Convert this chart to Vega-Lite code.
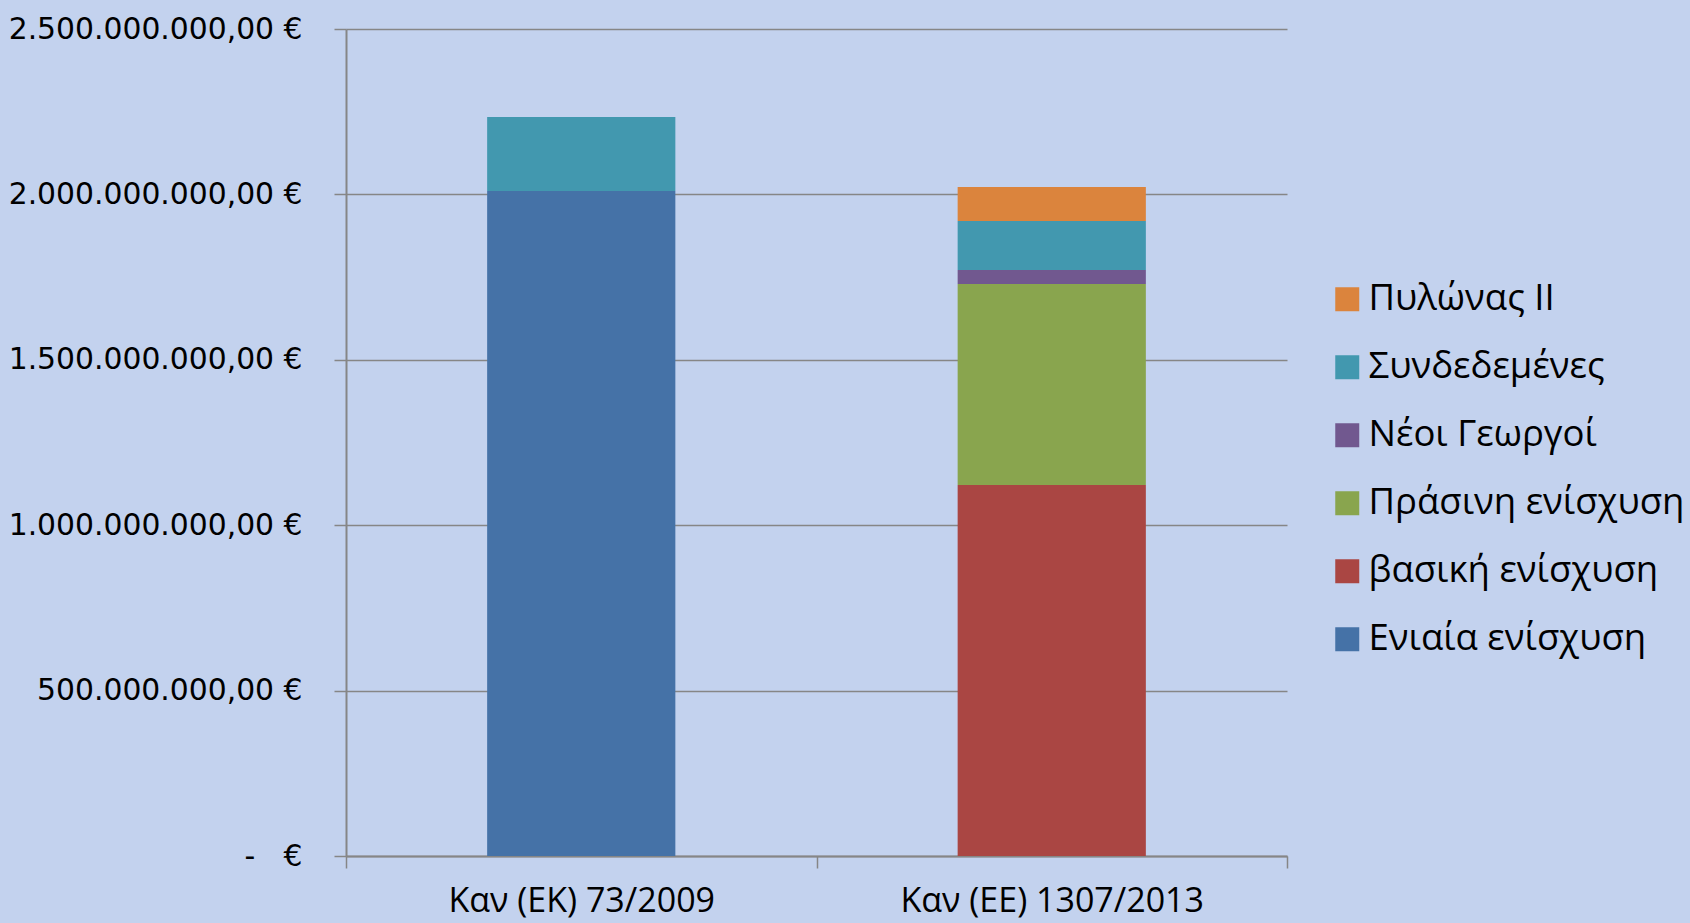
{
  "$schema": "https://vega.github.io/schema/vega-lite/v6.json",
  "width": 941,
  "height": 827,
  "autosize": "none",
  "padding": {"left": 346, "top": 29, "right": 403, "bottom": 67},
  "background": "#C3D2EE",
  "config": {
    "view": {"stroke": null},
    "locale": {"number": {"decimal": ",", "thousands": ".", "grouping": [3], "currency": ["", " €"]}}
  },
  "data": {
    "values": [
      {"reg": "Καν (ΕΚ) 73/2009", "series": "Ενιαία ενίσχυση", "k": 1, "value": 2010000000},
      {"reg": "Καν (ΕΚ) 73/2009", "series": "Συνδεδεμένες", "k": 5, "value": 224000000},
      {"reg": "Καν (ΕΕ) 1307/2013", "series": "βασική ενίσχυση", "k": 2, "value": 1121500000},
      {"reg": "Καν (ΕΕ) 1307/2013", "series": "Πράσινη ενίσχυση", "k": 3, "value": 608000000},
      {"reg": "Καν (ΕΕ) 1307/2013", "series": "Νέοι Γεωργοί", "k": 4, "value": 42000000},
      {"reg": "Καν (ΕΕ) 1307/2013", "series": "Συνδεδεμένες", "k": 5, "value": 148000000},
      {"reg": "Καν (ΕΕ) 1307/2013", "series": "Πυλώνας II", "k": 6, "value": 103000000}
    ]
  },
  "mark": {"type": "bar", "width": {"band": 0.4}},
  "encoding": {
    "x": {
      "field": "reg",
      "type": "nominal",
      "sort": null,
      "scale": {"paddingInner": 0, "paddingOuter": 0},
      "axis": {
        "title": null,
        "labelAngle": 0,
        "labelFont": "Open Sans",
        "labelFontSize": 34,
        "labelColor": "#000000",
        "labelPadding": 16,
        "labelLimit": 600,
        "domainColor": "#868686",
        "domainWidth": 2,
        "tickColor": "#868686",
        "tickWidth": 1.5,
        "tickSize": 12,
        "tickBand": "extent",
        "grid": false
      }
    },
    "y": {
      "field": "value",
      "type": "quantitative",
      "stack": "zero",
      "scale": {"domain": [0, 2500000000], "nice": false},
      "axis": {
        "title": null,
        "values": [0, 500000000, 1000000000, 1500000000, 2000000000, 2500000000],
        "labelExpr": "datum.value === 0 ? '-\u00a0\u00a0\u00a0€' : format(datum.value, ',.2f') + '\u00a0€'",
        "labelFont": "DejaVu Sans",
        "labelFontSize": 29.8,
        "labelColor": "#000000",
        "labelPadding": 32,
        "labelLimit": 600,
        "domainColor": "#868686",
        "domainWidth": 2,
        "tickColor": "#868686",
        "tickWidth": 1.5,
        "tickSize": 12,
        "grid": true,
        "gridColor": "#868686",
        "gridWidth": 1.5
      }
    },
    "color": {
      "field": "series",
      "type": "nominal",
      "sort": ["Πυλώνας II", "Συνδεδεμένες", "Νέοι Γεωργοί", "Πράσινη ενίσχυση", "βασική ενίσχυση", "Ενιαία ενίσχυση"],
      "scale": {
        "domain": ["Πυλώνας II", "Συνδεδεμένες", "Νέοι Γεωργοί", "Πράσινη ενίσχυση", "βασική ενίσχυση", "Ενιαία ενίσχυση"],
        "range": ["#DB843D", "#4298AF", "#71588F", "#89A54E", "#AA4643", "#4572A7"]
      },
      "legend": {
        "title": null,
        "orient": "none",
        "legendX": 983,
        "legendY": 252,
        "symbolType": "square",
        "symbolSize": 576,
        "symbolStrokeWidth": 0,
        "labelFont": "Open Sans",
        "labelFontSize": 36.5,
        "labelColor": "#000000",
        "labelOffset": 3,
        "rowPadding": 31,
        "labelLimit": 500
      }
    },
    "order": {"field": "k", "type": "quantitative", "sort": "ascending"}
  }
}
